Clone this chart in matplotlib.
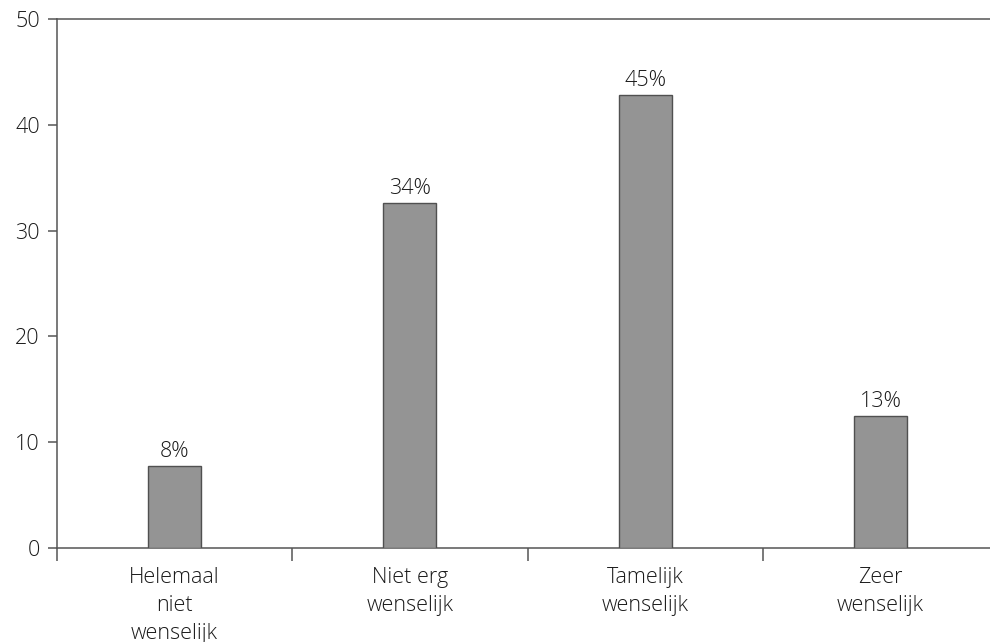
import matplotlib
matplotlib.use("Agg")
import matplotlib.pyplot as plt
from matplotlib.ticker import FixedLocator

categories = ["Helemaal\nniet\nwenselijk", "Niet erg\nwenselijk", "Tamelijk\nwenselijk", "Zeer\nwenselijk"]
values = [7.75, 32.6, 42.8, 12.5]
labels = ["8%", "34%", "45%", "13%"]

plt.rcParams['font.family'] = ['Open Sans', 'DejaVu Sans']
plt.rcParams['font.weight'] = 300
axc = '#555555'
txtc = '#1a1a1a'
fs = 15.5

fig = plt.figure(figsize=(9.9, 6.42), dpi=100)
ax = fig.add_axes([57/990, 1-548/642, 941/990, 529/642])

x = list(range(len(categories)))
bars = ax.bar(x, values, width=0.226, color='#949494', edgecolor='#505050', linewidth=1.0, zorder=3)
for b, lab in zip(bars, labels):
    ax.annotate(lab, (b.get_x() + b.get_width()/2, b.get_height()), xytext=(0, 3),
                textcoords='offset points', ha='center', va='bottom', fontsize=fs,
                color=txtc)

ax.set_xlim(-0.5, 3.5)
ax.set_ylim(0, 50)
ax.set_yticks([0, 10, 20, 30, 40, 50])
ax.set_xticks(x)
ax.set_xticklabels(categories, fontsize=fs, color=txtc, linespacing=1.42)
ax.xaxis.set_minor_locator(FixedLocator([-0.5, 0.5, 1.5, 2.5]))
ax.tick_params(axis='x', which='major', length=0, pad=14)
ax.tick_params(axis='x', which='minor', length=9, width=1.1, color=axc, direction='out')
ax.tick_params(axis='y', length=6.5, width=1.1, color=axc, pad=6, labelsize=fs, labelcolor=txtc)

for s in ['left', 'bottom', 'top', 'right']:
    ax.spines[s].set_color(axc)
    ax.spines[s].set_linewidth(1.1)

fig.savefig('out.png', dpi=100)
